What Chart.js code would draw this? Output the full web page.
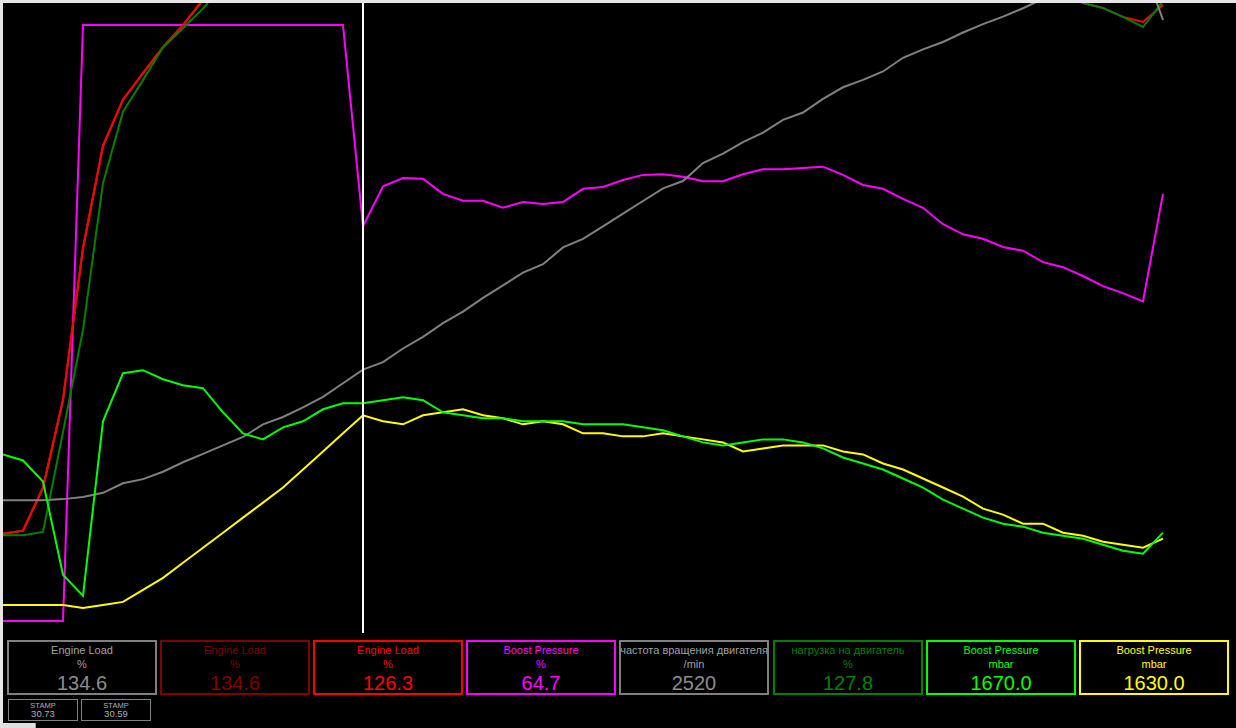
<!DOCTYPE html>
<html>
<head>
<meta charset="utf-8">
<script src="https://cdn.jsdelivr.net/npm/chart.js@4.4.0/dist/chart.umd.min.js"></script>
<style>
  html, body { margin: 0; padding: 0; background: #000; width: 1236px; height: 728px; overflow: hidden; font-family: "Liberation Sans", Arial, sans-serif; }
  #frameTop { position: absolute; left: 0; top: 0; width: 1236px; height: 3px; background: #e6e6e6; }
  #frameLeft { position: absolute; left: 0; top: 0; width: 3px; height: 728px; background: #e6e6e6; }
  #tab { position: absolute; left: 0; top: 723px; width: 35px; height: 5px; background: #e0e0e0; border-right: 1px solid #a0a0a0; }
  #plot { position: absolute; left: 3px; top: 3px; }
  .box { position: absolute; top: 640px; width: 150px; height: 55px; box-sizing: border-box; border: 2px solid; overflow: hidden; }
  .row { position: absolute; left: 0; right: 0; display: flex; justify-content: center; white-space: nowrap; }
  .lbl { top: 3px; font-size: 11px; line-height: 11px; }
  .unit { top: 17px; font-size: 11px; line-height: 11px; }
  .val { top: 31px; font-size: 20px; line-height: 20px; }
  .stamp { position: absolute; top: 699px; width: 70px; height: 22px; box-sizing: border-box; border: 1px solid #808080; color: #a8b0b8; text-align: center; }
  .stamp .s1 { position: absolute; left: 0; right: 0; top: 2px; font-size: 7.5px; line-height: 8px; }
  .stamp .s2 { position: absolute; left: 0; right: 0; top: 9px; font-size: 9.5px; line-height: 10px; }
</style>
</head>
<body>
<div id="frameTop"></div>
<div id="frameLeft"></div>
<canvas id="plot" width="1233" height="632" style="width:1233px;height:632px"></canvas>
<div id="panel"></div>
<div id="tab"></div>
<script>
// samples along the log (x axis)
const sampleIdx = [0,1,2,3,4,5,6,7,8,9,10,11,12,13,14,15,16,17,18,19,20,21,22,23,24,25,26,27,28,29,
  30,31,32,33,34,35,36,37,38,39,40,41,42,43,44,45,46,47,48,49,50,51,52,53,54,55,56,57,58];
const cursorIdx = 18;
const stampValues = ['30.73', '30.59'];

// Engine Load % (gray + dark red channels log the same value)
const engineLoadA = [16.0,16.5,23.3,37.2,61.2,77.4,84.7,88.9,93.0,96.5,100.5,
  106.0,111.0,116.0,120.5,124.5,128.5,131.8,134.6,
  135.8,136.4,136.5,136.1,135.6,135.0,134.3,133.6,132.8,132.0,
  131.1,130.3,129.4,128.5,127.6,126.6,125.7,124.7,123.8,122.7,
  121.7,120.6,119.6,118.4,117.4,116.3,115.1,114.0,112.8,111.6,
  110.5,109.3,108.2,107.0,106.1,105.2,104.5,104.0,103.6,104.8];
const engineLoadB = engineLoadA;

// Engine Load % (red)
const engineLoadC = [16.0,16.5,23.3,37.2,61.2,77.4,84.7,88.9,93.0,96.5,100.5,
  104.0,108.0,112.0,116.0,119.0,122.0,124.5,126.3,
  127.4,128.0,128.3,128.1,127.5,127.2,126.4,126.1,125.3,124.9,
  124.1,123.0,122.6,121.5,121.1,120.0,119.6,118.4,117.9,116.8,
  116.1,114.8,114.1,112.9,112.2,110.8,110.1,108.9,108.0,106.7,
  105.9,104.6,103.8,102.7,101.5,100.0,
  99.2,97.8,97.0,99.7];

// Boost Pressure % (magenta)
const boostPct = [2.2,2.2,2.2,2.2,
  96.5,96.5,96.5,96.5,96.5,96.5,96.5,96.5,96.5,96.5,96.5,96.5,96.5,96.5,
  64.7,71.0,72.3,72.2,69.8,68.7,68.7,67.6,68.5,68.2,
  68.5,70.6,70.9,72.0,72.8,72.9,72.5,71.8,71.8,72.9,
  73.7,73.7,73.9,74.1,72.8,71.2,70.6,69.0,67.6,65.0,
  63.4,62.7,61.4,60.8,59.0,58.2,56.8,55.2,54.1,52.8,69.8];

// частота вращения двигателя /min
const engineRpm = [1280,1280,1280,1290,1310,1350,1440,1480,1550,1640,
  1720,1800,1880,2000,2070,2160,2260,2390,2520,2590,
  2720,2830,2960,3070,3200,3320,3440,3520,3680,3760,
  3880,4000,4120,4240,4310,4480,4570,4680,4770,4890,
  4960,5090,5200,5270,5350,5480,5560,5630,5720,5800,
  5870,5950,6040,6110,6180,6250,6300,6360,5840];

// нагрузка на двигатель %
const loadRu = [15.8,15.8,16.3,32.1,48.3,71.5,82.8,87.8,93.0,96.0,99.1,
  103.0,107.5,111.5,115.5,119.0,122.5,125.5,127.8,
  129.0,129.6,129.8,129.5,129.0,128.4,127.9,127.2,126.6,125.8,
  125.1,124.3,123.6,122.7,121.9,121.0,120.2,119.5,118.6,117.7,
  116.9,115.8,114.9,113.8,112.9,111.8,110.7,109.6,108.4,107.3,
  106.0,104.9,103.6,102.4,101.2,
  100.0,99.2,97.8,96.2,100.3];

// Boost Pressure mbar (lime)
const boostSpec = [1500,1480,1410,1100,1030,1610,1770,1780,1750,1730,
  1720,1640,1570,1550,1590,1610,1650,1670,1670,1680,
  1690,1680,1640,1630,1620,1620,1610,1610,1610,1600,
  1600,1600,1590,1580,1560,1540,1530,1540,1550,1550,
  1540,1520,1490,1470,1450,1420,1390,1350,1320,1290,
  1270,1260,1240,1230,1220,1200,1180,1170,1240];

// Boost Pressure mbar (yellow)
const boostAct = [1000,1000,1000,1000,990,1000,1010,1050,1090,1140,
  1190,1240,1290,1340,1390,1450,1510,1570,1630,1610,
  1600,1630,1640,1650,1630,1620,1600,1610,1600,1570,
  1570,1560,1560,1570,1560,1550,1540,1510,1520,1530,
  1530,1530,1510,1500,1470,1450,1420,1390,1360,1320,
  1300,1270,1270,1240,1230,1210,1200,1190,1220];

const channelNames = ['Engine Load', 'Engine Load', 'Engine Load', 'Boost Pressure',
  'частота вращения двигателя', 'нагрузка на двигатель', 'Boost Pressure', 'Boost Pressure'];
const channelUnits = ['%', '%', '%', '%', '/min', '%', 'mbar', 'mbar'];
const channelData = [engineLoadA, engineLoadB, engineLoadC, boostPct, engineRpm, loadRu, boostSpec, boostAct];

// styles per channel
const styles = [
  { line: '#808080', text: '#a0a0a0', valText: '#8c8c8c', axis: 'yPct', dec: 1, order: 8 },
  { line: '#800000', text: '#800000', valText: '#800000', axis: 'yPct', dec: 1, order: 7 },
  { line: '#ff0000', text: '#ff0000', valText: '#ff0000', axis: 'yPct', dec: 1, order: 5 },
  { line: '#ff00ff', text: '#ff00ff', valText: '#ff00ff', axis: 'yPct', dec: 1, order: 6 },
  { line: '#808080', text: '#a0a0a0', valText: '#8c8c8c', axis: 'yRpm', dec: 0, order: 3 },
  { line: '#008000', text: '#008000', valText: '#008000', axis: 'yPct', dec: 1, order: 4 },
  { line: '#00ff00', text: '#00ff00', valText: '#00ff00', axis: 'yMbar', dec: 1, order: 1 },
  { line: '#ffff00', text: '#ffff00', valText: '#ffff00', axis: 'yMbar', dec: 1, order: 2 }
];

const datasets = channelData.map((series, k) => ({
  label: channelNames[k],
  data: sampleIdx.map((x, i) => ({ x, y: series[i] })),
  borderColor: styles[k].line,
  borderWidth: 2,
  pointRadius: 0,
  tension: 0,
  fill: false,
  yAxisID: styles[k].axis,
  order: styles[k].order
}));

const cursorPlugin = {
  id: 'cursor',
  afterDatasetsDraw(chart) {
    const { ctx, chartArea, scales } = chart;
    const x = scales.x.getPixelForValue(cursorIdx);
    ctx.save();
    ctx.strokeStyle = '#ffffff';
    ctx.lineWidth = 2;
    ctx.beginPath();
    ctx.moveTo(x, chartArea.top);
    ctx.lineTo(x, chartArea.bottom - 2);
    ctx.stroke();
    ctx.restore();
  }
};

new Chart(document.getElementById('plot'), {
  type: 'line',
  data: { datasets },
  options: {
    responsive: false,
    devicePixelRatio: 1,
    animation: false,
    layout: { padding: 0 },
    plugins: { legend: { display: false }, tooltip: { enabled: false } },
    scales: {
      x: { type: 'linear', min: 0, max: 61.65, display: false },
      yPct: { type: 'linear', min: 0, max: 100, display: false },
      yRpm: { type: 'linear', min: 0, max: 6000, display: false },
      yMbar: { type: 'linear', min: 900, max: 3000, display: false }
    }
  },
  plugins: [cursorPlugin]
});

// value boxes under the plot
const panel = document.getElementById('panel');
channelData.forEach((series, k) => {
  const st = styles[k];
  const box = document.createElement('div');
  box.className = 'box';
  box.style.left = Math.round(7 + k * 153.1) + 'px';
  box.style.borderColor = st.line;
  box.innerHTML = `
    <div class="row lbl" style="color:${st.text}"><span>${channelNames[k]}</span></div>
    <div class="row unit" style="color:${st.text}"><span>${channelUnits[k]}</span></div>
    <div class="row val" style="color:${st.valText}"><span>${series[cursorIdx].toFixed(st.dec)}</span></div>`;
  panel.appendChild(box);
});

stampValues.forEach((v, k) => {
  const s = document.createElement('div');
  s.className = 'stamp';
  s.style.left = (8 + k * 73) + 'px';
  s.innerHTML = `<div class="s1">STAMP</div><div class="s2">${v}</div>`;
  panel.appendChild(s);
});
</script>
</body>
</html>
